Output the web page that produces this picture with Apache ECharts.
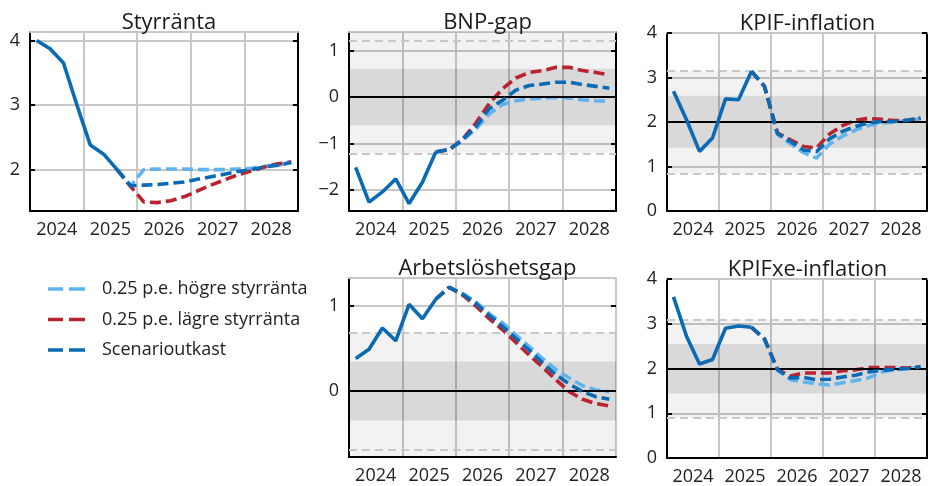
<!DOCTYPE html>
<html><head><meta charset="utf-8">
<script src="https://cdn.jsdelivr.net/npm/echarts@6/dist/echarts.min.js"></script>
<style>html,body{margin:0;padding:0;background:#fff}#c{width:930px;height:486px}</style>
</head><body><div id="c"></div>
<script>
// ---- data ----
const years = ['2024', '2025', '2026', '2027', '2028'];
const histEnd = 6; // index of last outcome quarter (2025 Q3)
const names = { hist: 'Utfall', high: '0.25 p.e. högre styrränta', low: '0.25 p.e. lägre styrränta', base: 'Scenarioutkast' };

const styrHist = [4.0, 3.87, 3.65, 3.0, 2.38, 2.24, 2.0];
const styrBase = [2.0, 1.75, 1.76, 1.77, 1.79, 1.81, 1.85, 1.89, 1.93, 1.97, 2.0, 2.04, 2.07, 2.11];
const styrHigh = [2.0, 1.75, 2.0, 2.01, 2.01, 2.01, 2.0, 2.0, 2.0, 2.01, 2.02, 2.05, 2.07, 2.11];
const styrLow  = [2.0, 1.74, 1.5, 1.49, 1.52, 1.58, 1.67, 1.76, 1.84, 1.92, 1.98, 2.04, 2.09, 2.12];

const bnpHist = [-1.51, -2.26, -2.04, -1.76, -2.29, -1.83, -1.18];
const bnpBase = [-1.18, -1.13, -0.92, -0.64, -0.25, -0.07, 0.15, 0.25, 0.28, 0.32, 0.32, 0.27, 0.23, 0.19];
const bnpHigh = [-1.18, -1.13, -0.93, -0.69, -0.36, -0.16, -0.08, -0.04, -0.02, -0.01, -0.02, -0.06, -0.08, -0.09];
const bnpLow  = [-1.18, -1.13, -0.91, -0.56, -0.14, 0.18, 0.41, 0.53, 0.57, 0.64, 0.64, 0.57, 0.53, 0.48];

const kpifHist = [2.69, 2.05, 1.34, 1.64, 2.52, 2.5, 3.14];
const kpifBase = [3.14, 2.8, 1.74, 1.56, 1.37, 1.33, 1.62, 1.79, 1.9, 1.98, 2.01, 2.01, 2.04, 2.09];
const kpifHigh = [3.14, 2.8, 1.72, 1.51, 1.31, 1.19, 1.5, 1.68, 1.82, 1.92, 1.98, 2.0, 2.03, 2.07];
const kpifLow  = [3.14, 2.8, 1.75, 1.6, 1.45, 1.42, 1.73, 1.92, 2.04, 2.08, 2.06, 2.03, 2.04, 2.08];

const arbHist = [0.38, 0.49, 0.74, 0.59, 1.02, 0.85, 1.08];
const arbBase = [1.08, 1.22, 1.14, 1.03, 0.89, 0.76, 0.62, 0.48, 0.33, 0.19, 0.08, -0.01, -0.07, -0.1];
const arbHigh = [1.08, 1.22, 1.15, 1.05, 0.91, 0.8, 0.66, 0.52, 0.38, 0.25, 0.15, 0.06, 0.01, -0.01];
const arbLow  = [1.08, 1.22, 1.13, 1.0, 0.85, 0.72, 0.57, 0.42, 0.28, 0.13, -0.01, -0.1, -0.15, -0.18];

const xeHist = [3.6, 2.72, 2.1, 2.2, 2.9, 2.95, 2.92];
const xeBase = [2.92, 2.66, 1.97, 1.79, 1.8, 1.75, 1.76, 1.81, 1.85, 1.92, 1.96, 1.98, 2.0, 2.04];
const xeHigh = [2.92, 2.66, 1.96, 1.75, 1.7, 1.66, 1.63, 1.68, 1.73, 1.79, 1.92, 1.97, 2.0, 2.03];
const xeLow  = [2.92, 2.66, 1.98, 1.83, 1.9, 1.9, 1.9, 1.95, 1.97, 2.02, 2.02, 2.02, 2.01, 2.04];

// y-axis extents, ticks, bands
const styrY = [1.36, 4.13], styrTicks = [2, 3, 4];
const bnpY = [-2.45, 1.4], bnpTicks = [-2, -1, 0, 1];
const kpifY = [0, 4], kpifTicks = [0, 1, 2, 3, 4];
const arbY = [-0.78, 1.33], arbTicks = [0, 1];
const xeY = [0, 4], xeTicks = [0, 1, 2, 3, 4];

const bnpLight = [-1.2, 1.4], bnpDark = [-0.61, 0.61], bnpDash = [-1.21, 1.21], bnpRef = 0;
const kpifLight = [0.84, 3.16], kpifDark = [1.42, 2.59], kpifDash = [0.84, 3.16], kpifRef = 2;
const arbLight = [-0.78, 0.69], arbDark = [-0.35, 0.345], arbDash = [-0.69, 0.69], arbRef = 0;
const xeLight = [0.9, 3.09], xeDark = [1.44, 2.55], xeDash = [0.9, 3.09], xeRef = 2;

// ---- layout / style ----
const C = { dark: '#0a6ab4', light: '#5fb4ee', red: '#b8232f', grid: '#c8c8c8', text: '#222222' };
const FONT = 'Open Sans';
const panels = [
  { title: 'Styrränta', hist: styrHist, base: styrBase, high: styrHigh, low: styrLow, y: styrY, ticks: styrTicks,
    box: [30, 32, 268, 179], rightColor: '#000' },
  { title: 'BNP-gap', hist: bnpHist, base: bnpBase, high: bnpHigh, low: bnpLow, y: bnpY, ticks: bnpTicks,
    light: bnpLight, darkB: bnpDark, dash: bnpDash, ref: bnpRef, box: [349, 32, 267, 179], rightColor: '#000' },
  { title: 'KPIF-inflation', hist: kpifHist, base: kpifBase, high: kpifHigh, low: kpifLow, y: kpifY, ticks: kpifTicks,
    light: kpifLight, darkB: kpifDark, dash: kpifDash, ref: kpifRef, box: [667, 33, 271, 178], rightColor: '#000' },
  { title: 'Arbetslöshetsgap', hist: arbHist, base: arbBase, high: arbHigh, low: arbLow, y: arbY, ticks: arbTicks,
    light: arbLight, darkB: arbDark, dash: arbDash, ref: arbRef, box: [349, 278, 267, 179], rightColor: '#c8c8c8' },
  { title: 'KPIFxe-inflation', hist: xeHist, base: xeBase, high: xeHigh, low: xeLow, y: xeY, ticks: xeTicks,
    light: xeLight, darkB: xeDark, dash: xeDash, ref: xeRef, box: [667, 279, 271, 179], rightColor: '#000' }
];

const fmt = v => (v < 0 ? '\u2212' + Math.abs(v) : String(v));
const grids = [], xAxes = [], yAxes = [], series = [], titles = [];
const DASH = [11, 5];

panels.forEach((p, g) => {
  const [l, t, w, h] = p.box;
  grids.push({ left: l, top: t, width: w, height: h });
  titles.push({ text: p.title, left: l + w / 2, top: t - 25, textAlign: 'center',
    textStyle: { fontSize: 22, fontWeight: 'normal', color: '#1a1a1a', fontFamily: FONT } });
  const xi = xAxes.length;
  xAxes.push({ gridIndex: g, type: 'value', min: 0, max: 20, interval: 4, position: 'bottom',
    axisLine: { show: true, onZero: false, lineStyle: { color: '#000', width: 2 } },
    axisTick: { show: false }, axisLabel: { show: false },
    splitLine: { show: true, lineStyle: { color: C.grid, width: 2 } } });
  xAxes.push({ gridIndex: g, type: 'value', min: 0, max: 20, interval: 2, position: 'bottom',
    axisLine: { show: false }, axisTick: { show: false }, splitLine: { show: false },
    axisLabel: { show: true, margin: 10, fontSize: 18, color: C.text, fontFamily: FONT,
      formatter: v => (Math.round(v) % 4 === 2 ? years[(Math.round(v) - 2) / 4] : '') } });
  xAxes.push({ gridIndex: g, type: 'value', min: 0, max: 20, position: 'top',
    axisLine: { show: true, onZero: false, lineStyle: { color: C.grid, width: 2 } },
    axisTick: { show: false }, axisLabel: { show: false }, splitLine: { show: false } });
  const yi = yAxes.length;
  yAxes.push({ gridIndex: g, type: 'value', min: p.y[0], max: p.y[1], position: 'left',
    axisLine: { show: true, onZero: false, lineStyle: { color: '#000', width: 2 } },
    axisTick: { show: true, inside: true, length: 5, customValues: p.ticks, lineStyle: { color: '#000', width: 2 } },
    axisLabel: { show: true, customValues: p.ticks, margin: 10, fontSize: 18, color: C.text, fontFamily: FONT, formatter: fmt },
    splitLine: { show: true, lineStyle: { color: C.grid, width: 2 } } });
  yAxes.push({ gridIndex: g, type: 'value', min: p.y[0], max: p.y[1], position: 'right',
    axisLine: { show: true, onZero: false, lineStyle: { color: p.rightColor, width: 2 } },
    axisTick: { show: true, inside: true, length: 5, customValues: p.ticks, lineStyle: { color: '#000', width: 2 } },
    axisLabel: { show: false }, splitLine: { show: false } });

  if (p.light) {
    series.push({ type: 'line', xAxisIndex: xi, yAxisIndex: yi, data: [], z: 1, silent: true,
      markArea: { silent: true, data: [
        [{ yAxis: p.light[0], itemStyle: { color: 'rgba(0,0,0,0.05)' } }, { yAxis: p.light[1] }],
        [{ yAxis: p.darkB[0], itemStyle: { color: 'rgba(0,0,0,0.10)' } }, { yAxis: p.darkB[1] }]
      ] },
      markLine: { silent: true, symbol: ['none', 'none'], label: { show: false }, animation: false, data: [
        { yAxis: p.dash[0], lineStyle: { color: C.grid, width: 2, type: [8, 5] } },
        { yAxis: p.dash[1], lineStyle: { color: C.grid, width: 2, type: [8, 5] } },
        { yAxis: p.ref, lineStyle: { color: '#000', width: 2, type: 'solid' } }
      ] } });
  }
  const scen = arr => arr.map((v, k) => [histEnd + k + 0.5, v]);
  const mk = (name, data, color, type, z) => ({ name, type: 'line', xAxisIndex: xi, yAxisIndex: yi, data,
    symbol: 'none', z, animation: false, lineStyle: { color, width: 3.6, type }, itemStyle: { color } });
  series.push(mk(names.high, scen(p.high), C.light, DASH, 3));
  series.push(mk(names.low, scen(p.low), C.red, DASH, 4));
  series.push(mk(names.base, scen(p.base), C.dark, DASH, 5));
  series.push(mk(names.hist, p.hist.map((v, i) => [i + 0.5, v]), C.dark, 'solid', 6));
});

const chart = echarts.init(document.getElementById('c'), null, { renderer: 'canvas' });
chart.setOption({
  animation: false,
  backgroundColor: '#fff',
  title: titles,
  grid: grids,
  xAxis: xAxes,
  yAxis: yAxes,
  legend: { show: true, orient: 'vertical', left: 43, top: 272, itemWidth: 37, itemHeight: 3.5, itemGap: 6.5,
    icon: 'path://M0,0h15v3.5h-15z M21,0h16v3.5h-16z',
    data: [names.high, names.low, names.base],
    textStyle: { fontSize: 18, color: C.text, fontFamily: FONT, padding: [0, 0, 0, 12], lineHeight: 24 } },
  series
});
</script></body></html>
